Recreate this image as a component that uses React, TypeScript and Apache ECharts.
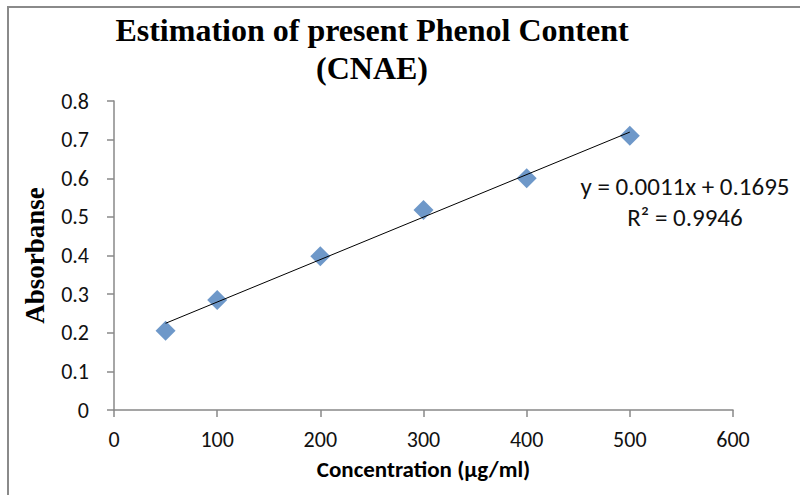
import React, { useEffect, useRef } from "react";
import * as echarts from "echarts";

const concentration = [50, 100, 200, 300, 400, 500];
const absorbance = [0.205, 0.285, 0.398, 0.518, 0.6, 0.71];
const trendX = [50, 500];
const trendY = [0.2245, 0.7195];
const titleLines = ["Estimation of present Phenol Content", "(CNAE)"];
const equationLines = ["y = 0.0011x + 0.1695", "R² = 0.9946"];

export default function App() {
  const ref = useRef<HTMLDivElement>(null);
  useEffect(() => {
    if (!ref.current) return;
    const chart = echarts.init(ref.current, undefined, { renderer: "svg" });
    const tickFont = "Carlito, Lato, 'Open Sans', 'Noto Sans', sans-serif";
    const serif = "'Liberation Serif', 'DejaVu Serif', serif";
    chart.setOption({
      animation: false,
      backgroundColor: "#ffffff",
      grid: { left: 114, right: 67, top: 101, bottom: 85, containLabel: false },
      xAxis: {
        type: "value",
        min: 0,
        max: 600,
        interval: 100,
        name: "Concentration (µg/ml)",
        nameLocation: "middle",
        nameGap: 47,
        nameTextStyle: { fontFamily: tickFont, fontWeight: "bold", fontSize: 23, color: "#000" },
        axisLine: { show: true, lineStyle: { color: "#888", width: 1.5 } },
        axisTick: { show: true, length: 7, lineStyle: { color: "#888", width: 1.5 } },
        axisLabel: { fontFamily: tickFont, fontSize: 22, color: "#111", margin: 18 },
        splitLine: { show: false },
      },
      yAxis: {
        type: "value",
        min: 0,
        max: 0.8,
        interval: 0.1,
        name: "Absorbanse",
        nameLocation: "middle",
        nameGap: 66,
        nameTextStyle: { fontFamily: serif, fontWeight: "bold", fontSize: 27, color: "#000" },
        axisLine: { show: true, lineStyle: { color: "#888", width: 1.5 } },
        axisTick: { show: true, length: 7, lineStyle: { color: "#888", width: 1.5 } },
        axisLabel: { fontFamily: tickFont, fontSize: 22, color: "#111", margin: 25 },
        splitLine: { show: false },
      },
      series: [
        {
          type: "line",
          data: trendX.map((x, i) => [x, trendY[i]]),
          symbol: "none",
          lineStyle: { color: "#000", width: 1 },
          z: 3,
        },
        {
          type: "scatter",
          data: concentration.map((x, i) => [x, absorbance[i]]),
          symbol: "diamond",
          symbolSize: [20, 20],
          itemStyle: { color: "#4a7ebb" },
          z: 2,
        },
      ],
      graphic: [
        { type: "line", shape: { x1: 8, y1: 7, x2: 800, y2: 7 }, style: { stroke: "#8a8a8a", lineWidth: 2 } },
        { type: "line", shape: { x1: 8, y1: 6, x2: 8, y2: 495 }, style: { stroke: "#8a8a8a", lineWidth: 2 } },
        {
          type: "text",
          x: 372,
          y: 30,
          style: {
            text: titleLines[0],
            fontFamily: serif,
            fontWeight: "bold",
            fontSize: 32,
            fill: "#000",
            align: "center",
            verticalAlign: "middle",
          },
        },
        {
          type: "text",
          x: 372,
          y: 68,
          style: {
            text: titleLines[1],
            fontFamily: serif,
            fontWeight: "bold",
            fontSize: 32,
            fill: "#000",
            align: "center",
            verticalAlign: "middle",
          },
        },
        {
          type: "text",
          x: 685,
          y: 186,
          style: { text: equationLines[0], fontFamily: tickFont, fontSize: 25, fill: "#111", align: "center", verticalAlign: "middle" },
        },
        {
          type: "text",
          x: 685,
          y: 217,
          style: { text: equationLines[1], fontFamily: tickFont, fontSize: 25, fill: "#111", align: "center", verticalAlign: "middle" },
        },
      ],
    });
    return () => chart.dispose();
  }, []);
  return <div ref={ref} style={{ position: "fixed", left: 0, top: 0, width: 800, height: 495 }} />;
}
